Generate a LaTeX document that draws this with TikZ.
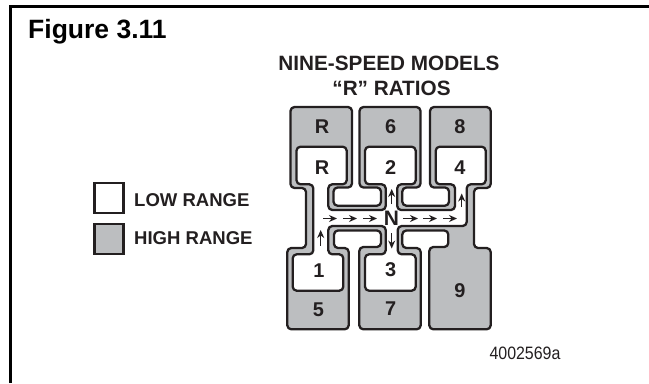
\documentclass[tikz,border=0pt]{standalone}
\usepackage{fontspec}
\setmainfont{Liberation Sans}
\usetikzlibrary{arrows.meta}
\definecolor{bandgray}{RGB}{188,190,192}
\definecolor{ink}{RGB}{35,31,32}
\tikzset{
  x=1bp,y=-1bp,
  contour/.style={draw=ink,line width=2.3bp,rounded corners=4bp,line join=round},
  lab/.style={font=\bfseries\fontsize{20}{20}\selectfont,text=ink,inner sep=0pt},
  flow/.style={draw=ink,line width=1.1bp,-{Stealth[length=8bp,width=7bp]}},
  legendbox/.style={draw=ink,line width=2.2bp,minimum width=29bp,minimum height=30bp,inner sep=0pt},
  legendtext/.style={font=\bfseries\fontsize{18.6}{18.6}\selectfont,text=ink,inner sep=0pt,anchor=west}
}
\begin{document}
\begin{tikzpicture}
\useasboundingbox (0,0) rectangle (649,383);
\draw[black,line width=2.6bp] (10.7,383) -- (10.7,6.3) -- (649,6.3);
\node[inner sep=0pt,anchor=west,font=\bfseries\fontsize{26.6}{27}\selectfont] (title) at (28,32) {Figure 3.11};
\node[lab,font=\bfseries\fontsize{20.8}{21}\selectfont] (h1) at (389,63.5) {NINE-SPEED MODELS};
\node[lab,font=\bfseries\fontsize{20.8}{21}\selectfont] (h2) at (391.5,88.5) {“R” RATIOS};
% outer gray silhouette
\path[contour,fill=bandgray]
 (290.5,107) -- (352,107) -- (352,187.5) -- (333.5,187.5) -- (333.5,205.7) -- (381,205.7) -- (381,187.5) -- (359.5,187.5)
 -- (359.5,107) -- (420.5,107) -- (420.5,187.5) -- (402.3,187.5) -- (402.3,205.7) -- (449,205.7) -- (449,187.5) -- (430,187.5)
 -- (430,107) -- (490.7,107) -- (490.7,188) -- (474,188) -- (474,248) -- (490.7,248) -- (490.7,329.3) -- (429.3,329.3)
 -- (429.3,247) -- (448.3,247) -- (448.3,230.5) -- (402.3,230.5) -- (402.3,248) -- (420.7,248) -- (420.7,329.3) -- (359.3,329.3)
 -- (359.3,247) -- (381,247) -- (381,230.5) -- (334,230.5) -- (334,248) -- (348.7,248) -- (348.7,329.3) -- (287.3,329.3)
 -- (287.3,248) -- (306,248) -- (306,188) -- (290.5,188) -- cycle;
% white inner path
\path[contour,fill=white]
 (296.5,146.7) -- (346.7,146.7) -- (346.7,184.3) -- (328.3,184.3) -- (328.3,210) -- (385.7,210) -- (385.7,184.3) -- (365,184.3)
 -- (365,146.7) -- (415.7,146.7) -- (415.7,184.3) -- (397.2,184.3) -- (397.2,210) -- (455,210) -- (455,184.3) -- (435.7,184.3)
 -- (435.7,146.7) -- (485.7,146.7) -- (485.7,184.3) -- (466.7,184.3) -- (466.7,226) -- (397.7,226) -- (397.7,254.3) -- (415.7,254.3)
 -- (415.7,290.7) -- (365,290.7) -- (365,254.3) -- (385.7,254.3) -- (385.7,226) -- (328.3,226) -- (328.3,254.3) -- (343.3,254.3)
 -- (343.3,290.7) -- (292.7,290.7) -- (292.7,254.3) -- (313.3,254.3) -- (313.3,184.3) -- (296.5,184.3) -- cycle;
% labels
\node[lab] (hR) at (322,126.7) {R};
\node[lab] (h6) at (390.7,126.7) {6};
\node[lab] (h8) at (460,126.7) {8};
\node[lab] (lR) at (322,167.3) {R};
\node[lab] (l2) at (390.7,167.3) {2};
\node[lab] (l4) at (460,167.3) {4};
\node[lab] (l1) at (319,271) {1};
\node[lab] (l3) at (390.7,270) {3};
\node[lab] (h5) at (318.3,310) {5};
\node[lab] (h7) at (390.7,309) {7};
\node[lab] (h9) at (460,290.7) {9};
\node[lab,font=\bfseries\fontsize{21}{21}\selectfont] (N) at (391.5,218) {N};
% arrows
\foreach \a/\b in {323/337,343/357,363/377,403/418,423/437,443/457}
  \draw[flow] (\a,218.5) -- (\b,218.5);
\draw[flow] (391.7,204) -- (391.7,189);
\draw[flow] (461.7,207) -- (461.7,193.5);
\draw[flow] (320.7,245.5) -- (320.7,230);
\draw[flow] (391.7,233) -- (391.7,248.5);
% legend
\node[legendbox,fill=white] (lowbox) at (109,198) {};
\node[legendbox,fill=bandgray] (highbox) at (109,239) {};
\node[legendtext] (lowt) at (134,200) {LOW RANGE};
\node[legendtext] (hight) at (134,238) {HIGH RANGE};
\node[inner sep=0pt,font=\fontsize{18}{18}\selectfont,text=ink,xscale=0.89,transform shape] (code) at (525,353) {4002569a};
\end{tikzpicture}
\end{document}
